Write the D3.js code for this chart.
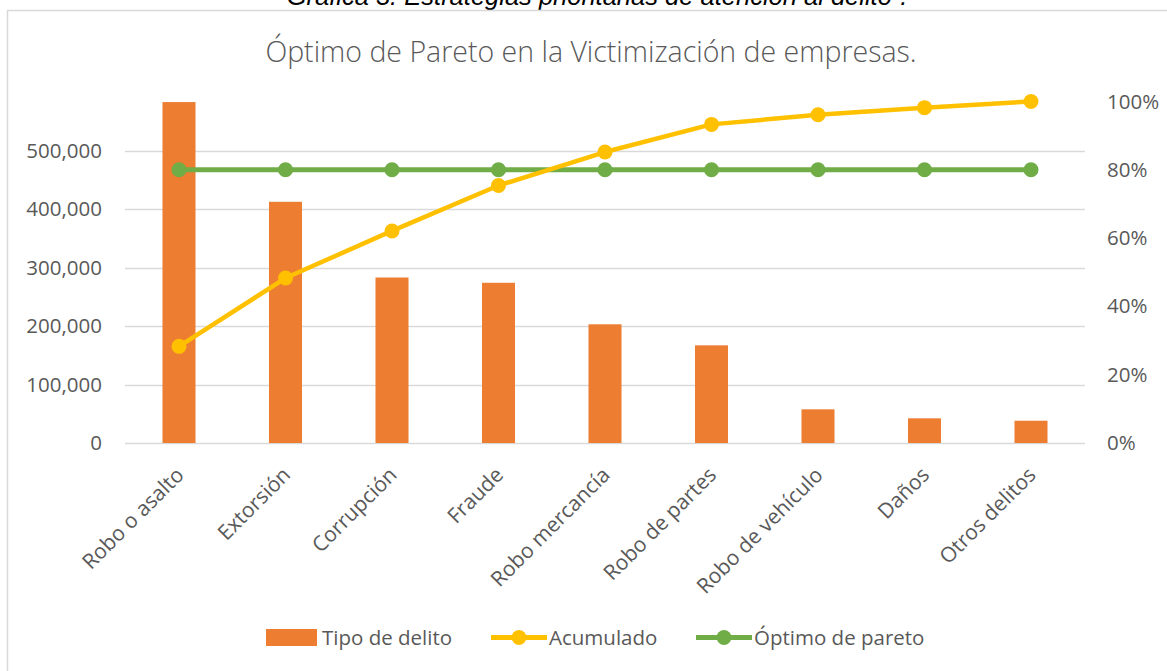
<!DOCTYPE html>
<html>
<head>
<meta charset="utf-8">
<script src="https://cdn.jsdelivr.net/npm/d3@7"></script>
<style>
  body { margin: 0; background: #fff; }
  svg { display: block; }
</style>
</head>
<body>
<svg id="chart" width="1167" height="671"></svg>
<script>
// ---- data ----
const categories = ["Robo o asalto", "Extorsión", "Corrupción", "Fraude", "Robo mercancía", "Robo de partes", "Robo de vehículo", "Daños", "Otros delitos"];
const tipoDelito = [583000, 412500, 283000, 274000, 203000, 167000, 57600, 42200, 38100];
const acumulado = [0.283, 0.483, 0.621, 0.754, 0.852, 0.933, 0.961, 0.982, 1.0];
const optimo = [0.8, 0.8, 0.8, 0.8, 0.8, 0.8, 0.8, 0.8, 0.8];
const leftTicks = [0, 100000, 200000, 300000, 400000, 500000];
const rightTicks = [0, 0.2, 0.4, 0.6, 0.8, 1.0];
const seriesNames = ["Tipo de delito", "Acumulado", "Óptimo de pareto"];
const chartTitle = "Óptimo de Pareto en la Victimización de empresas.";
const caption = "Gráfica 3. Estrategias prioritarias de atención al delito";

const colors = { bar: "#ED7D31", acc: "#FFC000", opt: "#70AD47", grid: "#D9D9D9", text: "#595959" };
const font = "'Open Sans', 'Noto Sans', sans-serif";

const svg = d3.select("#chart");

// caption (cut off at top, as in the source document)
const cap = svg.append("text")
  .attr("x", 597).attr("y", 5)
  .attr("text-anchor", "middle")
  .style("font-family", "'Liberation Sans', Arial, sans-serif")
  .style("font-style", "italic")
  .style("font-size", "25.5px")
  .attr("fill", "#000");
cap.append("tspan").text(caption);
cap.append("tspan").attr("dy", -9).style("font-size", "15px").text("4");
cap.append("tspan").attr("dy", 9).text(".");

// chart border
svg.append("rect")
  .attr("x", 7.5).attr("y", 10.5).attr("width", 1170).attr("height", 680)
  .attr("fill", "none").attr("stroke", colors.grid).attr("stroke-width", 1.5);

// title
svg.append("text")
  .attr("x", 591).attr("y", 62)
  .attr("text-anchor", "middle")
  .style("font-family", font)
  .style("font-weight", 300)
  .style("font-size", "28.5px")
  .attr("fill", colors.text)
  .text(chartTitle);

// scales
const x = d3.scaleBand().domain(categories).range([125.75, 1084.25]).paddingInner(0.69).paddingOuter(0.345);
const yL = d3.scaleLinear().domain([0, 584000]).range([443, 101.5]);
const yR = d3.scaleLinear().domain([0, 1]).range([443, 101.5]);

// gridlines
svg.append("g").selectAll("line").data(leftTicks).join("line")
  .attr("x1", 125).attr("x2", 1085)
  .attr("y1", d => Math.round(yL(d)) + 0.5).attr("y2", d => Math.round(yL(d)) + 0.5)
  .attr("stroke", colors.grid).attr("stroke-width", 1.5);

// left axis
const fmtL = d3.format(",");
const axL = svg.append("g").attr("transform", "translate(112,0)")
  .call(d3.axisLeft(yL).tickValues(leftTicks).tickFormat(fmtL).tickSize(0).tickPadding(10));
axL.select(".domain").remove();
axL.selectAll("text").style("font-family", font).style("font-size", "20.5px").attr("fill", colors.text);

// right axis
const fmtR = d3.format(".0%");
const axR = svg.append("g").attr("transform", "translate(1097,0)")
  .call(d3.axisRight(yR).tickValues(rightTicks).tickFormat(fmtR).tickSize(0).tickPadding(10));
axR.select(".domain").remove();
axR.selectAll("text").style("font-family", font).style("font-size", "20.5px").attr("fill", colors.text);

// bars
svg.append("g").selectAll("rect").data(tipoDelito).join("rect")
  .attr("x", (d, i) => x(categories[i]))
  .attr("width", x.bandwidth())
  .attr("y", d => yL(d))
  .attr("height", d => yL(0) - yL(d))
  .attr("fill", colors.bar);

const cx = (d, i) => x(categories[i]) + x.bandwidth() / 2;

// optimo line
const lineR = d3.line().x(cx).y(d => yR(d));
svg.append("path").datum(optimo).attr("d", lineR)
  .attr("fill", "none").attr("stroke", colors.opt).attr("stroke-width", 5);
svg.append("g").selectAll("circle").data(optimo).join("circle")
  .attr("cx", cx).attr("cy", d => yR(d)).attr("r", 7.5).attr("fill", colors.opt);

// acumulado line
svg.append("path").datum(acumulado).attr("d", lineR)
  .attr("fill", "none").attr("stroke", colors.acc).attr("stroke-width", 4.5).attr("stroke-linejoin", "round");
svg.append("g").selectAll("circle").data(acumulado).join("circle")
  .attr("cx", cx).attr("cy", d => yR(d)).attr("r", 7.5).attr("fill", colors.acc);

// x labels
svg.append("g").selectAll("text").data(categories).join("text")
  .attr("transform", d => `translate(${x(d) + x.bandwidth() / 2 + 1},${471}) rotate(-45)`)
  .attr("text-anchor", "end")
  .attr("dy", "0.35em")
  .style("font-family", font).style("font-size", "21px")
  .attr("fill", colors.text)
  .text(d => d);

// legend
const legY = 637.5;
const leg = svg.append("g").style("font-family", font).style("font-size", "20.5px");
leg.append("rect").attr("x", 266).attr("y", legY - 8.5).attr("width", 51).attr("height", 17).attr("fill", colors.bar);
leg.append("text").attr("x", 322).attr("y", legY).attr("dy", "0.35em").attr("fill", colors.text).text(seriesNames[0]);
leg.append("line").attr("x1", 491).attr("x2", 547).attr("y1", legY).attr("y2", legY).attr("stroke", colors.acc).attr("stroke-width", 5);
leg.append("circle").attr("cx", 519).attr("cy", legY).attr("r", 7.5).attr("fill", colors.acc);
leg.append("text").attr("x", 549).attr("y", legY).attr("dy", "0.35em").attr("fill", colors.text).text(seriesNames[1]);
leg.append("line").attr("x1", 696).attr("x2", 752).attr("y1", legY).attr("y2", legY).attr("stroke", colors.opt).attr("stroke-width", 5);
leg.append("circle").attr("cx", 724).attr("cy", legY).attr("r", 7.5).attr("fill", colors.opt);
leg.append("text").attr("x", 754).attr("y", legY).attr("dy", "0.35em").attr("fill", colors.text).text(seriesNames[2]);
</script>
</body>
</html>
